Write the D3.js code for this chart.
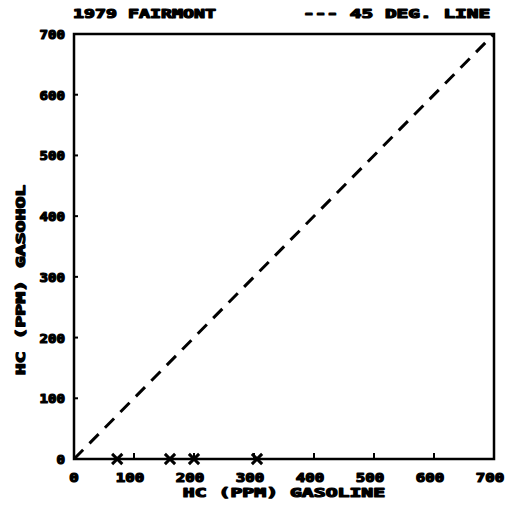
<!DOCTYPE html>
<html>
<head>
<meta charset="utf-8">
<script src="https://cdn.jsdelivr.net/npm/d3@7"></script>
<style>
  body { margin: 0; background: #fff; }
  text { font-family: "DejaVu Sans Mono", monospace; font-weight: bold; fill: #000; stroke: #000; stroke-width: 1.2; stroke-linejoin: round; }
</style>
</head>
<body>
<div id="chart"></div>
<script>
// HC emissions, gasohol vs gasoline (ppm)
const gasolineHC = [72, 160, 200, 305];
const gasoholHC = [0, 0, 0, 0];
const diagonal = [0, 700];
const tickValues = [0, 100, 200, 300, 400, 500, 600, 700];
const titleLeft = "1979 FAIRMONT";
const titleRight = "--- 45 DEG. LINE";
const xTitle = "HC (PPM) GASOLINE";
const yTitle = "HC (PPM) GASOHOL";

const W = 507, H = 507;
const margin = {top: 34, right: 13, bottom: 48, left: 74};
const width = W - margin.left - margin.right,
      height = H - margin.top - margin.bottom;

const svg = d3.select("#chart").append("svg")
    .attr("width", W).attr("height", H);

const g = svg.append("g")
    .attr("transform", `translate(${margin.left},${margin.top})`);

const x = d3.scaleLinear().domain([0, 700]).range([0, width]);
const y = d3.scaleLinear().domain([0, 700]).range([height, 0]);

// stretched blocky text like the old plotter lettering
function label(sel, str, perChar) {
    return sel.text(str)
        .attr("textLength", str.length * perChar)
        .attr("lengthAdjust", "spacingAndGlyphs");
}

// frame
g.append("rect")
    .attr("x", 0).attr("y", 0)
    .attr("width", width).attr("height", height)
    .attr("fill", "none").attr("stroke", "#000").attr("stroke-width", 2.5);

// ticks inside the frame
g.selectAll(".xt").data(tickValues.slice(1, -1)).enter().append("line")
    .attr("x1", d => x(d)).attr("x2", d => x(d))
    .attr("y1", height).attr("y2", height - 6)
    .attr("stroke", "#000").attr("stroke-width", 2);
g.selectAll(".yt").data(tickValues.slice(1, -1)).enter().append("line")
    .attr("x1", 0).attr("x2", 4)
    .attr("y1", d => y(d)).attr("y2", d => y(d))
    .attr("stroke", "#000").attr("stroke-width", 2);

// tick labels
g.selectAll(".xl").data(tickValues).enter().append("text")
    .attr("x", d => x(d) - (d === 0 ? 0 : 4))
    .attr("y", height + 23)
    .attr("text-anchor", "middle")
    .attr("font-size", 12.5)
    .each(function(d) { label(d3.select(this), String(d), 9.5); });

g.selectAll(".yl").data(tickValues).enter().append("text")
    .attr("x", -9)
    .attr("y", d => y(d) + 5)
    .attr("text-anchor", "end")
    .attr("font-size", 12.5)
    .each(function(d) { label(d3.select(this), String(d), 8.5); });

// 45 degree line
const line = d3.line().x(d => x(d)).y(d => y(d));
g.append("path")
    .datum(diagonal)
    .attr("d", line)
    .attr("fill", "none")
    .attr("stroke", "#000")
    .attr("stroke-width", 3)
    .attr("stroke-dasharray", "13,9");

// data points
const pts = gasolineHC.map((v, i) => [v, gasoholHC[i]]);
const sym = d3.symbol().type(d3.symbolX).size(70);
g.selectAll(".pt").data(pts).enter().append("path")
    .attr("d", sym)
    .attr("transform", d => `translate(${x(d[0])},${y(d[1])})`)
    .attr("fill", "none")
    .attr("stroke", "#000")
    .attr("stroke-width", 3);

// titles
label(svg.append("text").attr("x", 73).attr("y", 18).attr("font-size", 12.5), titleLeft, 11);
label(svg.append("text").attr("x", 303).attr("y", 18).attr("font-size", 12.5), titleRight, 11.7);

label(svg.append("text")
    .attr("x", margin.left + width / 2).attr("y", 497)
    .attr("text-anchor", "middle").attr("font-size", 12.5), xTitle, 11.9);

label(svg.append("text")
    .attr("transform", `translate(25,280) rotate(-90)`)
    .attr("text-anchor", "middle").attr("font-size", 12.5), yTitle, 11.9);
</script>
</body>
</html>
